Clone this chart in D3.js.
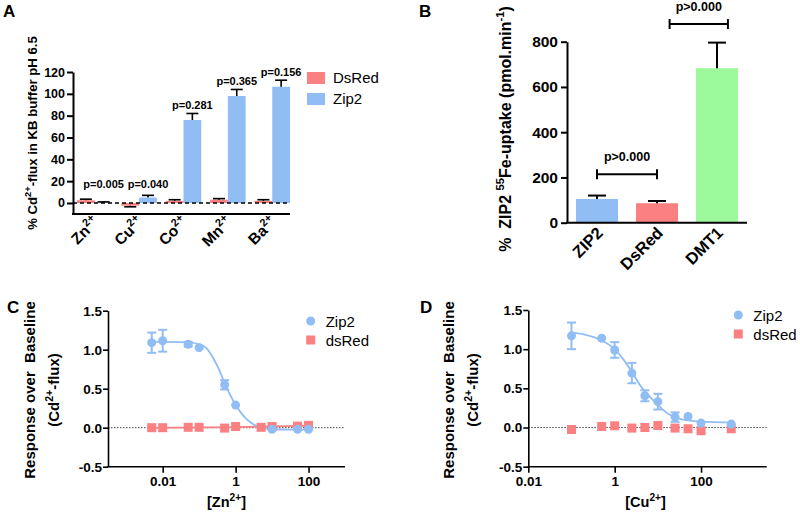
<!DOCTYPE html>
<html><head><meta charset="utf-8">
<script src="https://cdn.jsdelivr.net/npm/d3@7"></script>
<style>body{margin:0;background:#fff} text{font-family:Arial,"Liberation Sans",sans-serif;white-space:pre}</style>
</head><body><svg id="c" width="800" height="513"></svg>
<script>
// ---------- Panel A data ----------
const ionsA = ["Zn^{2+}","Cu^{2+}","Co^{2+}","Mn^{2+}","Ba^{2+}"];
const seriesA = ["DsRed","Zip2"];
const dsRedA = [2.5,-2.5,2,3,2];
const dsRedErrA = [1,1,1,1,1];
const zip2A = [0.5,5,76,98,106.5];
const zip2ErrA = [0.5,2,6,6,6];
const pValsA = ["p=0.005","p=0.040","p=0.281","p=0.365","p=0.156"];
const ticksA = [0,20,40,60,80,100,120];
// ---------- Panel B data ----------
const catsB = ["ZIP2","DsRed","DMT1"];
const valsB = [105,86,683];
const errsB = [15,10,113];
const ticksB = [0,200,400,600,800];
const bracketLabelsB = ["p>0.000","p>0.000"];
const bracketLevelsB = [214,878];
// ---------- Panel C data ----------
const concZip2C = [0.005,0.01,0.05,0.1,0.5,1,10,50,100];
const zip2C = [1.09,1.115,1.07,1.026,0.55,0.29,-0.02,-0.02,-0.02];
const zip2ErrC = [0.13,0.14,0.03,0,0.06,0,0,0,0];
const concRedC = [0.005,0.01,0.05,0.1,0.5,1,5,10,50,100];
const dsRedC = [0,0,0.005,0.005,-0.005,0.015,0.005,0.015,0.02,0.03];
const fitLogZip2C = [-2.3,-1.6,-1.3,-1.0,-0.8,-0.6,-0.45,-0.3,-0.15,0,0.15,0.3,0.5,0.7,1.0,1.5,2];
const fitZip2C = [1.10,1.098,1.095,1.07,1.02,0.88,0.74,0.57,0.42,0.29,0.19,0.11,0.04,0.0,-0.02,-0.025,-0.025];
const fitLogRedC = [-2.3,0,2];
const fitRedC = [-0.003,0.008,0.025];
const xTicksC = [0.01,1,100];
const yTicksCD = [-0.5,0,0.5,1,1.5];
// ---------- Panel D data ----------
const concZip2D = [0.1,0.5,1,2.5,5,10,25,50,100,500];
const zip2D = [1.17,1.14,0.99,0.695,0.405,0.33,0.133,0.141,0.057,0.044];
const zip2ErrD = [0.17,0,0.1,0.13,0.07,0.1,0.06,0,0,0];
const concRedD = [0.1,0.5,1,2.5,5,10,25,50,100,500];
const dsRedD = [-0.025,0.013,0.022,-0.007,0,0.026,-0.007,-0.016,-0.041,-0.016];
const fitLogZip2D = [-1,-0.65,-0.33,0,0.2,0.4,0.6,0.8,1.0,1.2,1.4,1.7,2.0,2.7];
const fitZip2D = [1.21,1.18,1.12,1.0,0.87,0.71,0.53,0.40,0.29,0.19,0.13,0.09,0.075,0.065];
const xTicksD = [0.01,1,100];

const RED = "#fa8082", BLUE = "#91bdf5", GREEN = "#9cf99c";
const svg = d3.select("#c");

function rich(t, str, fs){
  const parts = str.split(/(\^\{[^}]*\})/).filter(s=>s.length);
  let shift = 0;
  parts.forEach(p=>{
    const m = p.match(/^\^\{(.*)\}$/);
    if(m){ const d = -fs*0.42; t.append("tspan").attr("dy", d-shift).attr("font-size", fs*0.7).text(m[1]); shift = d; }
    else { t.append("tspan").attr("dy", -shift).text(p); shift = 0; }
  });
  return t;
}
function label(x,y,str,fs,opts={}){
  const t = svg.append("text").attr("x",x).attr("y",y).attr("font-size",fs)
    .attr("font-weight",opts.weight||"bold").attr("text-anchor",opts.anchor||"start").attr("fill","#000");
  if(opts.transform) t.attr("transform",opts.transform).attr("x",0).attr("y",0);
  return rich(t,str,fs);
}
function styleAxis(g,sw,fs){
  g.selectAll("path,line").attr("stroke","#000").attr("stroke-width",sw);
  g.selectAll("text").attr("font-size",fs).attr("font-weight","bold").attr("fill","#000")
    .attr("font-family","Arial, 'Liberation Sans', sans-serif");
}

// ================= Panel A =================
{
  const y = d3.scaleLinear().domain([-10,120]).range([213.9,72]);
  const x0 = d3.scaleBand().domain(ionsA).range([77,290]).paddingInner(0.2).paddingOuter(0);
  const x1 = d3.scaleBand().domain(seriesA).range([0,x0.bandwidth()]);
  const vals = {DsRed:dsRedA, Zip2:zip2A}, errs = {DsRed:dsRedErrA, Zip2:zip2ErrA}, col = {DsRed:RED, Zip2:BLUE};
  seriesA.forEach(s=>{
    ionsA.forEach((ion,i)=>{
      const v = vals[s][i], e = errs[s][i];
      const bx = x0(ion)+x1(s), bw = x1.bandwidth();
      svg.append("rect").attr("x",bx).attr("width",bw)
        .attr("y",Math.min(y(0),y(v))).attr("height",Math.abs(y(v)-y(0))).attr("fill",col[s]);
      const top = v + Math.sign(v||1)*e, cx = bx+bw/2;
      svg.append("line").attr("x1",cx).attr("x2",cx).attr("y1",y(v)).attr("y2",y(top)).attr("stroke","#000").attr("stroke-width",1.6);
      svg.append("line").attr("x1",cx-6).attr("x2",cx+6).attr("y1",y(top)).attr("y2",y(top)).attr("stroke","#000").attr("stroke-width",1.6);
    });
  });
  ionsA.forEach((ion,i)=>{
    const cx = x0(ion)+x1("Zip2")+x1.bandwidth()/2;
    const top = Math.max(zip2A[i]+zip2ErrA[i], dsRedA[i]+dsRedErrA[i], 10);
    label(cx, y(top)-4, pValsA[i], 11, {anchor:"middle"});
  });
  svg.append("line").attr("x1",73).attr("x2",290).attr("y1",y(0)).attr("y2",y(0))
    .attr("stroke","#000").attr("stroke-width",1.5).attr("stroke-dasharray","4,3");
  const ga = svg.append("g").attr("transform","translate(73,0)")
    .call(d3.axisLeft(y).tickValues(ticksA).tickSize(6).tickPadding(2).tickSizeOuter(0));
  styleAxis(ga,2,12.5);
  svg.append("line").attr("x1",72).attr("x2",290).attr("y1",y(-10)).attr("y2",y(-10)).attr("stroke","#000").attr("stroke-width",2);
  ionsA.forEach(ion=>{
    label(0,0,ion,15.5,{anchor:"end",transform:`translate(${x0(ion)+x0.bandwidth()/2+5},223) rotate(-45)`});
  });
  label(0,0,"% Cd^{2+}-flux in KB buffer pH 6.5",13.2,{anchor:"middle",transform:"translate(37,133) rotate(-90)"});
  seriesA.forEach((s,i)=>{
    svg.append("rect").attr("x",307).attr("y",72+i*21).attr("width",18).attr("height",12).attr("fill",col[s]);
    label(333,83+i*21,s,15,{weight:"normal"});
  });
  label(3,17,"A",17);
}

// ================= Panel B =================
{
  const y = d3.scaleLinear().domain([0,800]).range([222.7,41.7]);
  const x = d3.scaleBand().domain(catsB).range([567,747]).paddingInner(0.3).paddingOuter(0.15);
  const cols = [BLUE,RED,GREEN];
  catsB.forEach((c,i)=>{
    svg.append("rect").attr("x",x(c)).attr("width",x.bandwidth()).attr("y",y(valsB[i]))
      .attr("height",y(0)-y(valsB[i])).attr("fill",cols[i]);
    const cx = x(c)+x.bandwidth()/2, top = valsB[i]+errsB[i];
    svg.append("line").attr("x1",cx).attr("x2",cx).attr("y1",y(valsB[i])).attr("y2",y(top)).attr("stroke","#000").attr("stroke-width",2);
    svg.append("line").attr("x1",cx-9).attr("x2",cx+9).attr("y1",y(top)).attr("y2",y(top)).attr("stroke","#000").attr("stroke-width",2);
  });
  const bw = x.bandwidth();
  const ends = [[x("ZIP2")+bw*0.5, x("DsRed")+bw*0.5],[x("DsRed")+bw*0.8, x("DMT1")+bw*0.76]];
  ends.forEach((e,i)=>{
    const by = y(bracketLevelsB[i]);
    svg.append("line").attr("x1",e[0]).attr("x2",e[1]).attr("y1",by).attr("y2",by).attr("stroke","#000").attr("stroke-width",2);
    e.forEach(ex=>svg.append("line").attr("x1",ex).attr("x2",ex).attr("y1",by-5).attr("y2",by+5).attr("stroke","#000").attr("stroke-width",2));
    label((e[0]+e[1])/2, by-13, bracketLabelsB[i], 12.5, {anchor:"middle"});
  });
  const gb = svg.append("g").attr("transform","translate(567,0)")
    .call(d3.axisLeft(y).tickValues(ticksB).tickSize(6).tickPadding(3).tickSizeOuter(0));
  styleAxis(gb,2,15.5);
  svg.append("line").attr("x1",566).attr("x2",747).attr("y1",y(0)).attr("y2",y(0)).attr("stroke","#000").attr("stroke-width",2);
  catsB.forEach(c=>{
    label(0,0,c,16.5,{anchor:"end",transform:`translate(${x(c)+bw/2+7},234) rotate(-45)`});
  });
  label(0,0,"%  ZIP2 ^{55}Fe-uptake (pmol.min^{-1})",16,{anchor:"middle",transform:"translate(511,129) rotate(-90)"});
  label(419,17,"B",17);
}

// ================= Panels C and D =================
function doseChart(o){
  const y = d3.scaleLinear().domain([-0.5,1.5]).range([466.7,o.yTop]);
  const x = d3.scaleLog().domain(o.xDomain).range([o.x0,o.x1]);
  svg.append("line").attr("x1",o.x0).attr("x2",o.x1).attr("y1",y(0)).attr("y2",y(0))
    .attr("stroke","#444").attr("stroke-width",1).attr("stroke-dasharray","1.5,1.5");
  const line = d3.line().x(d=>x(Math.pow(10,d[0]))).y(d=>y(d[1])).curve(d3.curveMonotoneX);
  if(o.fitRed){
    svg.append("path").attr("d",line(o.fitRed[0].map((l,i)=>[l,o.fitRed[1][i]])))
      .attr("fill","none").attr("stroke",RED).attr("stroke-width",1.8);
  }
  svg.append("path").attr("d",line(o.fitZip2[0].map((l,i)=>[l,o.fitZip2[1][i]])))
    .attr("fill","none").attr("stroke",BLUE).attr("stroke-width",1.8);
  o.concRed.forEach((c,i)=>{
    svg.append("rect").attr("x",x(c)-4.5).attr("y",y(o.red[i])-4.5).attr("width",9).attr("height",9).attr("fill",RED);
  });
  o.concZip2.forEach((c,i)=>{
    const cx = x(c), v = o.zip2[i], e = o.err[i];
    if(e>0){
      svg.append("line").attr("x1",cx).attr("x2",cx).attr("y1",y(v-e)).attr("y2",y(v+e)).attr("stroke",BLUE).attr("stroke-width",2);
      [v-e,v+e].forEach(t=>svg.append("line").attr("x1",cx-4.5).attr("x2",cx+4.5).attr("y1",y(t)).attr("y2",y(t)).attr("stroke",BLUE).attr("stroke-width",2));
    }
    svg.append("circle").attr("cx",cx).attr("cy",y(v)).attr("r",4.5).attr("fill",BLUE);
  });
  const gy = svg.append("g").attr("transform",`translate(${o.x0},0)`)
    .call(d3.axisLeft(y).tickValues(yTicksCD).tickFormat(d3.format(".1f")).tickSize(5).tickPadding(1).tickSizeOuter(0));
  styleAxis(gy,1.6,13.5);
  gy.selectAll("text").text(d=>d3.format(".1f")(d).replace("−","-"));
  const gx = svg.append("g").attr("transform","translate(0,466.7)")
    .call(d3.axisBottom(x).tickValues(o.xTicks).tickFormat(d=>String(d)).tickSize(6).tickPadding(4).tickSizeOuter(0));
  styleAxis(gx,1.6,13.5);
  gx.select(".domain").attr("d",`M${o.x0-0.8},0H${o.x1}`);
  label((o.x0+o.x1)/2+o.xlabShift, 507, o.xlab, 14.5, {anchor:"middle"});
  label(0,0,"Response over\u00a0 Baseline",15,{anchor:"middle",transform:`translate(${o.ylx},390) rotate(-90)`});
  label(0,0,"(Cd^{2+}-flux)",15,{anchor:"middle",transform:`translate(${o.ylx+24},390) rotate(-90)`});
  svg.append("circle").attr("cx",o.legX).attr("cy",o.legY).attr("r",4.5).attr("fill",BLUE);
  svg.append("rect").attr("x",o.legX-4.5).attr("y",o.legY+19-4.5).attr("width",9).attr("height",9).attr("fill",RED);
  label(o.legX+15,o.legY+5.5,"Zip2",15,{weight:"normal"});
  label(o.legX+15,o.legY+24.5,"dsRed",15,{weight:"normal"});
  label(o.letterX,313,o.letter,17);
}
doseChart({x0:108,x1:345,yTop:310.7,xDomain:[Math.pow(10,-3.5),1000],xTicks:xTicksC,
  concZip2:concZip2C,zip2:zip2C,err:zip2ErrC,concRed:concRedC,red:dsRedC,
  fitZip2:[fitLogZip2C,fitZip2C],fitRed:[fitLogRedC,fitRedC],
  xlab:"[Zn^{2+}]",xlabShift:0,ylx:35,legX:310.7,legY:321,letter:"C",letterX:7});
doseChart({x0:528.3,x1:766.7,yTop:310,xDomain:[0.01,Math.pow(10,3.52)],xTicks:xTicksD,
  concZip2:concZip2D,zip2:zip2D,err:zip2ErrD,concRed:concRedD,red:dsRedD,
  fitZip2:[fitLogZip2D,fitZip2D],fitRed:null,
  xlab:"[Cu^{2+}]",xlabShift:-2,ylx:454,legX:738.3,legY:315,letter:"D",letterX:420});
</script></body></html>
